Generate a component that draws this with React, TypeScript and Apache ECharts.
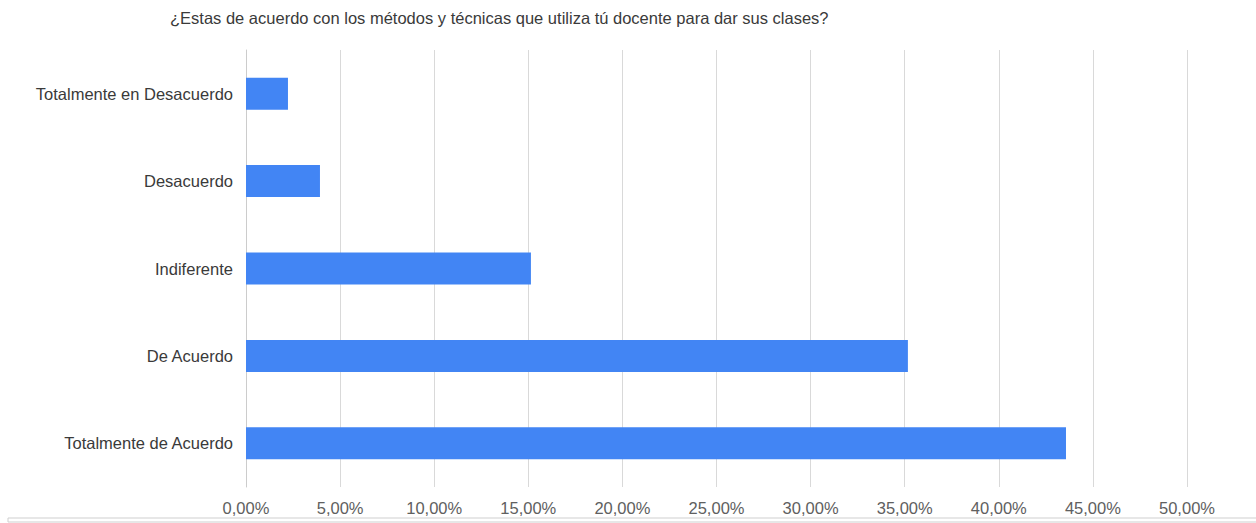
import React, { useEffect, useRef } from "react";
import * as echarts from "echarts";

const title = "¿Estas de acuerdo con los métodos y técnicas que utiliza tú docente para dar sus clases?";
const categories = [
  "Totalmente en Desacuerdo",
  "Desacuerdo",
  "Indiferente",
  "De Acuerdo",
  "Totalmente de Acuerdo",
];
const values = [2.23, 3.93, 15.14, 35.17, 43.57];
const axisMax = 50;
const axisInterval = 5;

export default function App() {
  const ref = useRef<HTMLDivElement>(null);
  useEffect(() => {
    document.body.style.margin = "0";
    const chart = echarts.init(ref.current!, null, { renderer: "svg" });
    chart.setOption({
      animation: false,
      backgroundColor: "#ffffff",
      textStyle: { fontFamily: "Liberation Sans, Arial, sans-serif" },
      title: {
        text: title,
        left: 165,
        top: 4,
        textStyle: { fontSize: 16.5, fontWeight: "normal", color: "#3a3a3a", fontFamily: "Liberation Sans, Arial, sans-serif" },
      },
      grid: { left: 246, right: 69, top: 50, bottom: 36, containLabel: false },
      xAxis: {
        type: "value",
        min: 0,
        max: axisMax,
        interval: axisInterval,
        axisLine: { show: false },
        axisTick: { show: false },
        splitLine: { show: true, lineStyle: { color: "#d9d9d9", width: 1 } },
        axisLabel: {
          color: "#606060",
          fontSize: 16.5,
          margin: 12,
          formatter: (v: number) => v.toFixed(2).replace(".", ",") + "%",
        },
      },
      yAxis: {
        type: "category",
        data: categories,
        inverse: true,
        axisLine: { show: true, lineStyle: { color: "#cccccc" } },
        axisTick: { show: false },
        axisLabel: { color: "#3a3a3a", fontSize: 16.5, margin: 13 },
      },
      series: [
        {
          type: "bar",
          data: values,
          barWidth: 32,
          itemStyle: { color: "#4285f4" },
        },
      ],
      graphic: [
        {
          type: "rect",
          shape: { x: 8, y: 518, width: 1250, height: 4 },
          style: { fill: "#ffffff", stroke: "#cfcfcf", lineWidth: 1 },
          silent: true,
        },
      ],
    });
    return () => chart.dispose();
  }, []);
  return <div ref={ref} style={{ width: 1256, height: 523 }} />;
}
